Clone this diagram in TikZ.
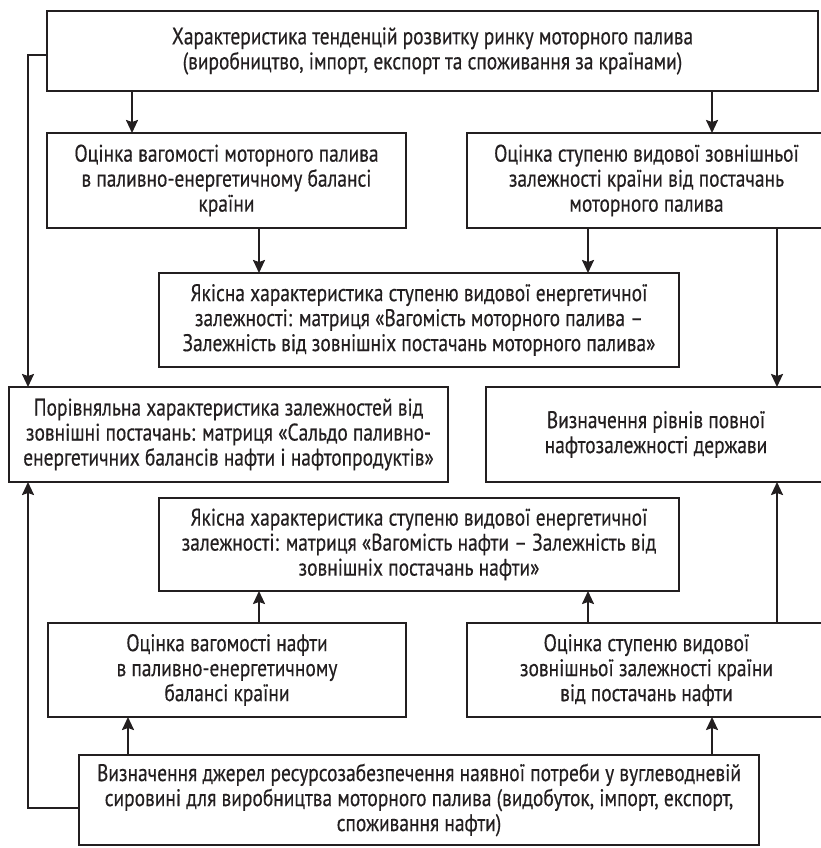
\documentclass[tikz,border=0pt]{standalone}
\usepackage{fontspec}
\setmainfont[FakeStretch=0.81, FakeBold=0.4]{PT Sans}
\usepackage{xcolor}
\usepackage{tikz}
\usetikzlibrary{arrows.meta, positioning}

\definecolor{ink}{RGB}{35,31,32}

\begin{document}
\begin{tikzpicture}[
        x=1pt, y=1pt,
        every node/.style={font=\fontsize{24}{25}\selectfont, text=ink},
        box/.style={rectangle, draw=ink, line width=2.8pt, align=center, inner sep=0pt, outer sep=0pt, anchor=north west},
        arrow/.style={-{Stealth[length=13pt, width=12pt, inset=2pt]}, line width=2pt, draw=ink}
    ]
        \useasboundingbox (0,0) rectangle (820,-848);

        \node[box, minimum width=771pt, minimum height=80pt] (trend) at (47,-11)
            {\fontsize{24}{23}\selectfont Характеристика тенденцій розвитку ринку моторного палива\\(виробництво, імпорт, експорт та споживання за країнами)};
        \node[box, minimum width=359pt, minimum height=95pt, below=42pt of trend.south west, anchor=north west] (weightMP)
            {Оцінка вагомості моторного палива\\в паливно-енергетичному балансі\\країни};
        \node[box, minimum width=359pt, minimum height=95pt, below=42pt of trend.south east, anchor=north east, xshift=8pt] (depMP)
            {Оцінка ступеню видової зовнішньої\\залежності країни від постачань\\моторного палива};
        \node[box, minimum width=520pt, minimum height=94pt, below=45pt of weightMP.south west, anchor=north west, xshift=112pt] (qualMP)
            {Якісна характеристика ступеню видової енергетичної\\залежності: матриця «Вагомість моторного палива –\\Залежність від зовнішніх постачань моторного палива»};
        \node[box, minimum width=439pt, minimum height=95pt, below=20pt of qualMP.south west, anchor=north west, xshift=-150pt] (compare)
            {\fontsize{24}{22}\selectfont Порівняльна характеристика залежностей від\\зовнішні постачань: матриця «Сальдо паливно-\\енергетичних балансів нафти і нафтопродуктів»};
        \node[box, minimum width=340pt, minimum height=95pt, right=38pt of compare.north east, anchor=north west] (levels)
            {Визначення рівнів повної\\нафтозалежності держави};
        \node[box, minimum width=520pt, minimum height=93pt, below=131pt of qualMP.south west, anchor=north west] (qualOil)
            {Якісна характеристика ступеню видової енергетичної\\залежності: матриця «Вагомість нафти – Залежність від\\зовнішніх постачань нафти»};
        \node[box, minimum width=358pt, minimum height=94pt, below=32pt of qualOil.south west, anchor=north west, xshift=-111pt] (weightOil)
            {Оцінка вагомості нафти\\в паливно-енергетичному\\балансі країни};
        \node[box, minimum width=359pt, minimum height=94pt, right=61pt of weightOil.north east, anchor=north west] (depOil)
            {Оцінка ступеню видової\\зовнішньої залежності країни\\від постачань нафти};
        \node[box, minimum width=680pt, minimum height=90pt, below=38pt of weightOil.south west, anchor=north west, xshift=31pt] (sources)
            {Визначення джерел ресурсозабезпечення наявної потреби у вуглеводневій\\сировині для виробництва моторного палива (видобуток, імпорт, експорт,\\споживання нафти)};

        % downward arrows
        \draw[arrow] ([xshift=85pt]weightMP.north west |- trend.south) -- ([xshift=85pt]weightMP.north west);
        \draw[arrow] ([xshift=245pt]depMP.north west |- trend.south) -- ([xshift=245pt]depMP.north west);
        \draw[arrow] ([xshift=100pt]qualMP.north west |- weightMP.south) -- ([xshift=100pt]qualMP.north west);
        \draw[arrow] ([xshift=-91pt]qualMP.north east |- depMP.south) -- ([xshift=-91pt]qualMP.north east);
        \draw[arrow] ([xshift=291pt]levels.north west |- depMP.south) -- ([xshift=291pt]levels.north west);
        \draw[arrow] ([yshift=-4pt]trend.west) -| ([xshift=19pt]compare.north west);

        % upward arrows
        \draw[arrow] ([xshift=100pt]qualOil.south west |- weightOil.north) -- ([xshift=100pt]qualOil.south west);
        \draw[arrow] ([xshift=-91pt]qualOil.south east |- depOil.north) -- ([xshift=-91pt]qualOil.south east);
        \draw[arrow] ([xshift=291pt]levels.south west |- depOil.north) -- ([xshift=291pt]levels.south west);
        \draw[arrow] ([xshift=49pt]sources.north west) -- ([xshift=49pt]sources.north west |- weightOil.south);
        \draw[arrow] ([xshift=245pt]depOil.south west |- sources.north) -- ([xshift=245pt]depOil.south west);
        \draw[arrow] ([yshift=-8pt]sources.west) -| ([xshift=19pt]compare.south west);
    \end{tikzpicture}
\end{document}
